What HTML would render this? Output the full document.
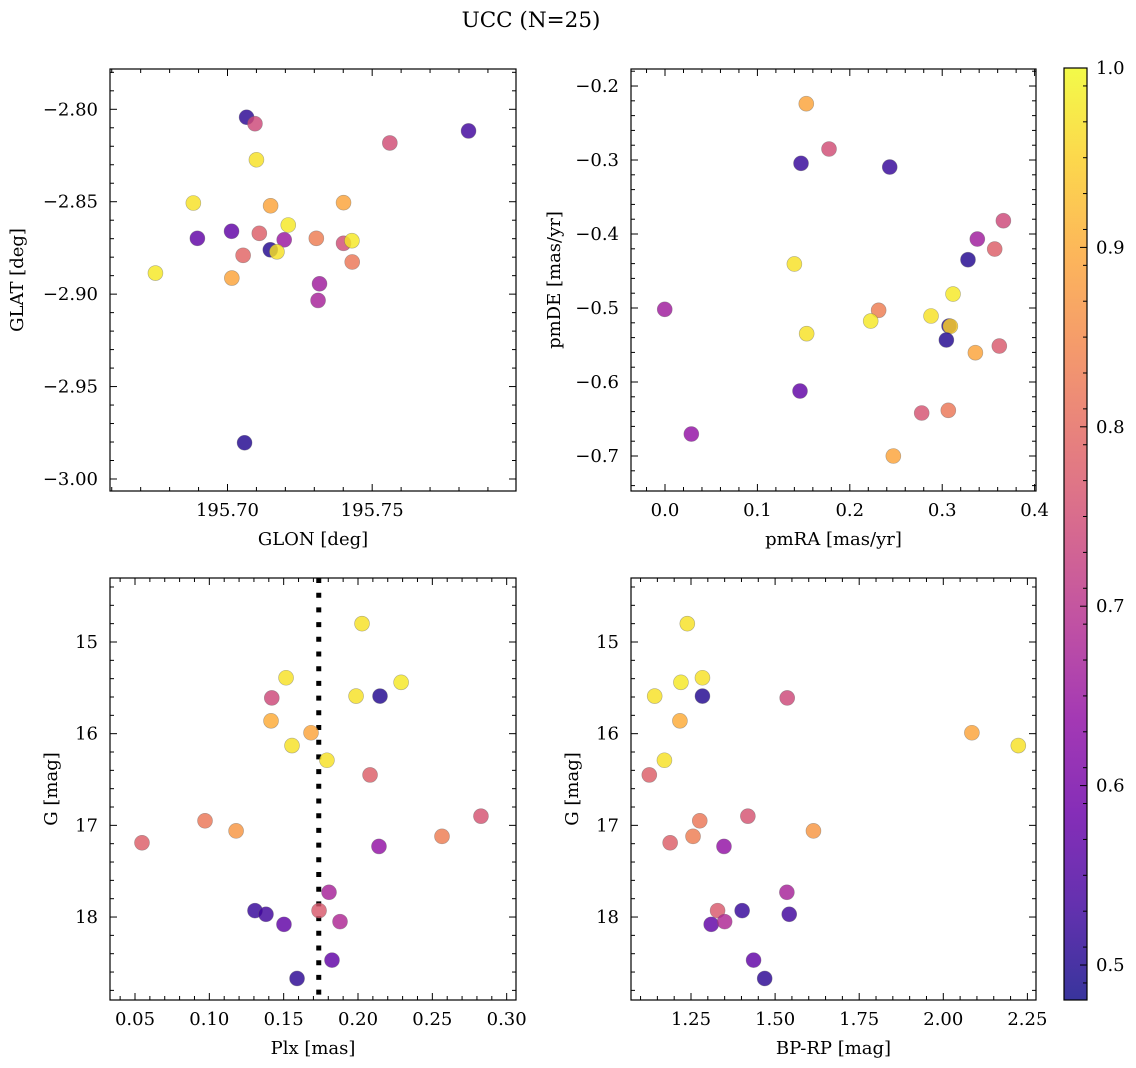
<!DOCTYPE html>
<html><head><meta charset="utf-8"><style>
html,body{margin:0;padding:0;background:#fff;}
svg{display:block;font-family:"DejaVu Serif","Liberation Serif",serif;}
</style></head><body>
<svg id="fig" width="1136" height="1068" viewBox="0 0 1136 1068" xmlns="http://www.w3.org/2000/svg">
<text x="531" y="27" font-size="21.5" text-anchor="middle">UCC (N=25)</text>
</svg>
<script>
// Panel 1: GLON / GLAT
const glon = [195.7066,195.7095,195.7833,195.7561,195.7100,195.6882,195.7149,195.7401,195.7210,195.6896,195.7014,195.7110,195.7196,195.7307,195.7401,195.7430,195.7148,195.7171,195.7054,195.7431,195.6751,195.7015,195.7318,195.7313,195.7059];
const glat = [-2.8043,-2.8078,-2.8117,-2.8182,-2.8273,-2.8507,-2.8522,-2.8505,-2.8626,-2.8698,-2.8660,-2.8671,-2.8706,-2.8698,-2.8725,-2.8711,-2.8760,-2.8771,-2.8790,-2.8826,-2.8886,-2.8913,-2.8944,-2.9034,-2.9804];
const prob1 = [0.51,0.74,0.53,0.75,0.97,0.97,0.89,0.89,0.98,0.57,0.57,0.78,0.65,0.83,0.75,0.98,0.50,0.97,0.79,0.82,0.98,0.89,0.66,0.67,0.50];
// Panel 2: pmRA / pmDE
const pmra = [0.1529,0.1775,0.1472,0.2432,0.3662,0.3380,0.3568,0.3279,0.1400,0.3117,-0.0003,0.2312,0.2226,0.2879,0.3074,0.3088,0.1533,0.3045,0.3359,0.3618,0.1461,0.2778,0.3066,0.0285,0.2471];
const pmde = [-0.2239,-0.2851,-0.3045,-0.3095,-0.3820,-0.4068,-0.4203,-0.4347,-0.4405,-0.4811,-0.5018,-0.5031,-0.5176,-0.5108,-0.5243,-0.5247,-0.5347,-0.5432,-0.5604,-0.5514,-0.6122,-0.6419,-0.6383,-0.6703,-0.7000];
const prob2 = [0.89,0.75,0.52,0.52,0.74,0.66,0.78,0.50,0.97,0.98,0.66,0.83,0.98,0.97,0.50,0.95,0.97,0.50,0.89,0.77,0.57,0.76,0.82,0.64,0.89];
// Panel 3: Plx / G
const plx = [0.2027,0.1516,0.2290,0.1420,0.1987,0.2148,0.1415,0.1684,0.1556,0.1791,0.2081,0.0971,0.2827,0.1180,0.0547,0.2565,0.2141,0.1805,0.1307,0.1381,0.1738,0.1502,0.1879,0.1825,0.1590];
const gmag3 = [14.80,15.39,15.44,15.61,15.59,15.59,15.86,15.99,16.13,16.29,16.45,16.95,16.90,17.06,17.19,17.12,17.23,17.73,17.93,17.97,17.93,18.08,18.05,18.47,18.67];
const prob3 = [0.97,0.97,0.98,0.74,0.97,0.50,0.90,0.89,0.97,0.97,0.78,0.82,0.76,0.87,0.78,0.83,0.64,0.67,0.52,0.53,0.77,0.57,0.68,0.57,0.51];
const plxCut = [0.1736];
// Panel 4: BP-RP / G
const bprp = [1.239,1.220,1.284,1.142,1.284,1.536,1.217,2.085,2.223,1.171,1.126,1.276,1.419,1.614,1.188,1.256,1.348,1.535,1.402,1.542,1.329,1.310,1.350,1.436,1.469];
const gmag4 = [14.80,15.44,15.39,15.59,15.59,15.61,15.86,15.99,16.13,16.29,16.45,16.95,16.90,17.06,17.19,17.12,17.23,17.73,17.93,17.97,17.93,18.08,18.05,18.47,18.67];
const prob4 = [0.97,0.98,0.97,0.97,0.50,0.74,0.90,0.89,0.97,0.97,0.78,0.82,0.76,0.87,0.78,0.83,0.64,0.67,0.52,0.53,0.77,0.57,0.68,0.57,0.51];
// colorbar
const cbTicks = [0.5,0.6,0.7,0.8,0.9,1.0];
const cbMin = 0.4805, cbMax = 1.0;

const NS = "http://www.w3.org/2000/svg";
const svg = document.getElementById('fig');
function mk(tag, attrs, parent){ const e=document.createElementNS(NS,tag); for(const k in attrs) e.setAttribute(k,attrs[k]); (parent||svg).appendChild(e); return e; }

const plasmaStops = ["#0d0887","#41049d","#6a00a8","#8f0da4","#b12a90","#cc4778","#e16462","#f2844b","#fca636","#fcce25","#f0f921"];
function hex(h){return [parseInt(h.substr(1,2),16),parseInt(h.substr(3,2),16),parseInt(h.substr(5,2),16)];}
function plasma(t){ t=Math.max(0,Math.min(1,t)); const f=t*10, i=Math.min(9,Math.floor(f)), u=f-i; const a=hex(plasmaStops[i]), b=hex(plasmaStops[i+1]); return 'rgb('+a.map((v,k)=>Math.round(v+(b[k]-v)*u)).join(',')+')'; }
function pcol(p){ return plasma((p-cbMin)/(cbMax-cbMin)); }

function fmt(v,d){ const s=Math.abs(v).toFixed(d); return (v<-1e-9?'\u2212':'')+s; }

const FS = 18;
function panel(cfg){
  const {x0,y0,x1,y1,xmin,xmax,ymin,ymax,invert,name} = cfg;
  const g = mk('g',{});
  
  
  const sx = v => x0 + (v-xmin)/(xmax-xmin)*(x1-x0);
  const sy = invert ? (v => y0 + (v-ymin)/(ymax-ymin)*(y1-y0)) : (v => y1 - (v-ymin)/(ymax-ymin)*(y1-y0));
  const fr = mk('rect',{x:x0,y:y0,width:x1-x0,height:y1-y0,fill:'none',stroke:'#000','stroke-width':1.2},g);
  
  
  const eps=1e-9;
  for(let v=Math.ceil(xmin/cfg.xminor-eps)*cfg.xminor; v<=xmax+eps; v+=cfg.xminor){
    const X=sx(v); const maj = Math.abs(v/cfg.xmajor-Math.round(v/cfg.xmajor))<1e-4; const L=maj?7:4;
    mk('line',{x1:X,x2:X,y1:y1,y2:y1-L,stroke:'#000','stroke-width':1},g);
    mk('line',{x1:X,x2:X,y1:y0,y2:y0+L,stroke:'#000','stroke-width':1},g);
    if(maj){ const t=mk('text',{x:X,y:y1+25,'font-size':FS,'text-anchor':'middle'},g); t.textContent=fmt(v,cfg.xdec);
      
       }
  }
  for(let v=Math.ceil(ymin/cfg.yminor-eps)*cfg.yminor; v<=ymax+eps; v+=cfg.yminor){
    const Y=sy(v); const maj = Math.abs(v/cfg.ymajor-Math.round(v/cfg.ymajor))<1e-4; const L=maj?7:4;
    mk('line',{x1:x0,x2:x0+L,y1:Y,y2:Y,stroke:'#000','stroke-width':1},g);
    mk('line',{x1:x1,x2:x1-L,y1:Y,y2:Y,stroke:'#000','stroke-width':1},g);
    if(maj){ const t=mk('text',{x:x0-12,y:Y+6,'font-size':FS,'text-anchor':'end'},g); t.textContent=fmt(v,cfg.ydec);
      
       }
  }
  const xl=mk('text',{x:(x0+x1)/2,y:y1+54,'font-size':FS,'text-anchor':'middle'},g); xl.textContent=cfg.xlabel;
  
  
  const yl=mk('text',{x:0,y:0,'font-size':FS,'text-anchor':'middle',transform:'translate('+cfg.ylx+','+((y0+y1)/2)+') rotate(-90)'},g); yl.textContent=cfg.ylabel;
  
  
  if(cfg.vline!==undefined){
    const l=mk('line',{x1:sx(cfg.vline),x2:sx(cfg.vline),y1:y0,y2:y1,stroke:'#000','stroke-width':5,'stroke-dasharray':'5 9.7'},g);
    
    
  }
  for(let i=0;i<cfg.xs.length;i++){
    const c=mk('circle',{cx:sx(cfg.xs[i]),cy:sy(cfg.ys[i]),r:7.5,fill:pcol(cfg.ps[i]),'fill-opacity':0.82,stroke:'#666','stroke-opacity':0.5,'stroke-width':0.6},g);
    
    
  }
}

panel({name:'glon-glat-panel',x0:110,y0:69,x1:516,y1:491,xmin:195.6594,xmax:195.7997,ymin:-3.0065,ymax:-2.7782,invert:false,
  xmajor:0.05,xminor:0.01,xdec:2,ymajor:0.05,yminor:0.01,ydec:2,xlabel:'GLON [deg]',ylabel:'GLAT [deg]',ylx:23,xs:glon,ys:glat,ps:prob1});
panel({name:'pm-panel',x0:631,y0:69,x1:1036,y1:491,xmin:-0.0368,xmax:0.4015,ymin:-0.7473,ymax:-0.177,invert:false,
  xmajor:0.1,xminor:0.02,xdec:1,ymajor:0.1,yminor:0.02,ydec:1,xlabel:'pmRA [mas/yr]',ylabel:'pmDE [mas/yr]',ylx:560,xs:pmra,ys:pmde,ps:prob2});
panel({name:'plx-g-panel',x0:110,y0:578,x1:516,y1:1000,xmin:0.05-25/1486.7,xmax:0.05+381/1486.7,ymin:14.302,ymax:18.905,invert:true,
  xmajor:0.05,xminor:0.01,xdec:2,ymajor:1,yminor:0.2,ydec:0,xlabel:'Plx [mas]',ylabel:'G [mag]',ylx:57,xs:plx,ys:gmag3,ps:prob3,vline:plxCut[0]});
panel({name:'bprp-g-panel',x0:631,y0:578,x1:1036,y1:1000,xmin:1.0716,xmax:2.2756,ymin:14.302,ymax:18.905,invert:true,
  xmajor:0.25,xminor:0.05,xdec:2,ymajor:1,yminor:0.2,ydec:0,xlabel:'BP-RP [mag]',ylabel:'G [mag]',ylx:578,xs:bprp,ys:gmag4,ps:prob4});

// colorbar
const cbx=1064, cbw=23, cby0=68, cby1=1000;
const cg=mk('g',{});


const defs=mk('defs',{},cg);
const grad=mk('linearGradient',{id:'cbg',x1:0,y1:1,x2:0,y2:0},defs);
for(let k=0;k<=20;k++){ mk('stop',{offset:k/20,'stop-color':plasma(k/20),'stop-opacity':0.82},grad); }
const cbr=mk('rect',{x:cbx,y:cby0,width:cbw,height:cby1-cby0,fill:'url(#cbg)',stroke:'#000','stroke-width':1.2},cg);


const cy = v => cby1 - (v-cbMin)/(cbMax-cbMin)*(cby1-cby0);
for(let v=0.49; v<=1.0001; v+=0.02){
  const Y=cy(v); mk('line',{x1:cbx+cbw,x2:cbx+cbw-4,y1:Y,y2:Y,stroke:'#000','stroke-width':1},cg);
}
cbTicks.forEach(v=>{
  const Y=cy(v); mk('line',{x1:cbx+cbw,x2:cbx+cbw-7,y1:Y,y2:Y,stroke:'#000','stroke-width':1},cg);
  const t=mk('text',{x:cbx+cbw+9,y:Y+6,'font-size':FS},cg); t.textContent=v.toFixed(1);
  
  
});
</script>
</body></html>
